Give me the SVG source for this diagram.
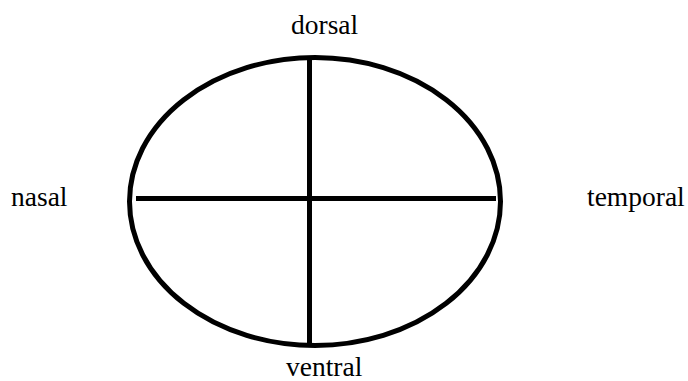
<svg xmlns="http://www.w3.org/2000/svg" width="688" height="381" viewBox="0 0 688 381">
<style>
.lbl{font-size:27.5px;fill:#000}
.ln{stroke:#000;stroke-width:5;fill:none}
</style>
<rect width="688" height="381" fill="#fff"/>
<g id="eye">
<ellipse class="ln" cx="315" cy="201.5" rx="185.5" ry="144"/>
</g>
<g id="connectors">
<line class="ln" x1="309.5" y1="58" x2="309.5" y2="345"/>
<line class="ln" x1="136" y1="198.5" x2="496" y2="198.5"/>
</g>
<g font-family="'Liberation Serif', 'Times New Roman', 'DejaVu Serif', serif">
<g id="dorsal"><text class="lbl" x="291" y="34">dorsal</text></g>
<g id="ventral"><text class="lbl" x="286" y="376">ventral</text></g>
<g id="nasal"><text class="lbl" x="11" y="206">nasal</text></g>
<g id="temporal"><text class="lbl" x="587" y="206">temporal</text></g>
</g>
</svg>
